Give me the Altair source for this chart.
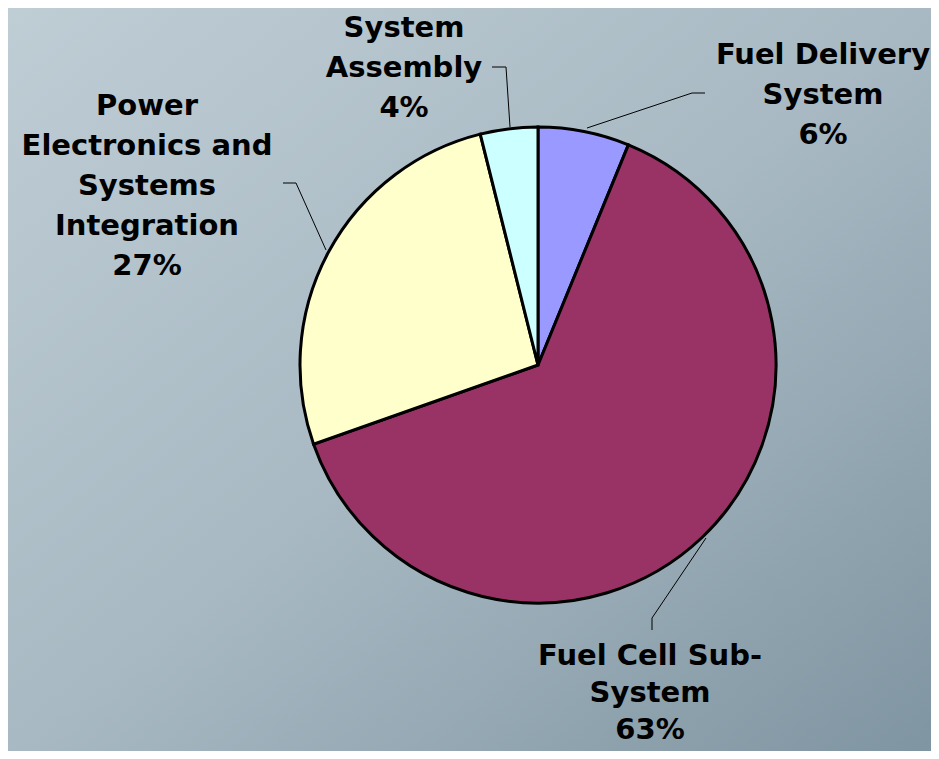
import altair as alt
import pandas as pd

# ---- data ----
categories = ["Fuel Delivery System", "Fuel Cell Sub-System",
              "Power Electronics and Systems Integration", "System Assembly"]
shares = [6.2, 63.4, 26.5, 3.9]
pct_labels = ["6%", "63%", "27%", "4%"]
label_lines = [
    "Fuel Delivery\nSystem\n6%",
    "Fuel Cell Sub-\nSystem\n63%",
    "Power\nElectronics and\nSystems\nIntegration\n27%",
    "System\nAssembly\n4%",
]
colors = ["#9999ff", "#993366", "#ffffcc", "#ccffff"]

W, H = 923, 743
CX, CY, R = 530, 357, 238

pie_df = pd.DataFrame({"cat": categories, "share": shares,
                       "order": list(range(len(categories)))})

# label layout (chart pixel coordinates)
lab_df = pd.DataFrame({
    "text": label_lines,
    "lx": [815, 642, 139, 396],
    "ly": [56, 657, 107, 29],
    "lh": [40, 37, 40, 40],
})

# leader line segments (chart pixel coordinates)
seg_df = pd.DataFrame({
    "x1": [484, 498, 697, 684, 275, 288, 644, 644],
    "y1": [59, 59, 85, 85, 175, 175, 622, 610],
    "x2": [498, 502, 684, 579, 288, 318, 644, 698],
    "y2": [59, 119, 85, 120, 175, 242, 610, 530],
})

bg = alt.Chart(pd.DataFrame({"a": [0]})).mark_rect(
    fill=alt.Gradient(
        gradient="linear", x1=0, y1=0, x2=1, y2=1,
        stops=[alt.GradientStop(color="#bfcdd5", offset=0),
               alt.GradientStop(color="#a8b9c3", offset=0.5),
               alt.GradientStop(color="#7f95a1", offset=1)]),
).encode(x=alt.value(0), x2=alt.value(W), y=alt.value(0), y2=alt.value(H))

pie = alt.Chart(pie_df).mark_arc(
    radius=R, stroke="black", strokeWidth=3
).encode(
    theta=alt.Theta("share:Q", stack=True),
    order=alt.Order("order:Q"),
    color=alt.Color("cat:N", scale=alt.Scale(domain=categories, range=colors), legend=None),
    x=alt.value(CX), y=alt.value(CY),
)

leaders = alt.Chart(seg_df).mark_rule(color="black", strokeWidth=1).encode(
    x=alt.X("x1:Q", scale=None), y=alt.Y("y1:Q", scale=None),
    x2="x2:Q", y2="y2:Q",
)

def label_layer(i):
    return alt.Chart(lab_df.iloc[[i]]).mark_text(
        font="DejaVu Sans", fontWeight="bold", fontSize=29, color="black",
        align="center", baseline="alphabetic", lineBreak="\n",
        lineHeight=int(lab_df["lh"].iloc[i]),
    ).encode(
        x=alt.X("lx:Q", scale=None), y=alt.Y("ly:Q", scale=None), text="text:N",
    )

labels = [label_layer(i) for i in range(len(lab_df))]

chart = alt.layer(bg, pie, leaders, *labels).properties(
    width=W, height=H, autosize=alt.AutoSizeParams(type="none"), padding=0,
).configure_view(stroke=None).configure(background="#a8b9c3")

chart.save("out.html", embed_options={"renderer": "svg", "actions": False})
